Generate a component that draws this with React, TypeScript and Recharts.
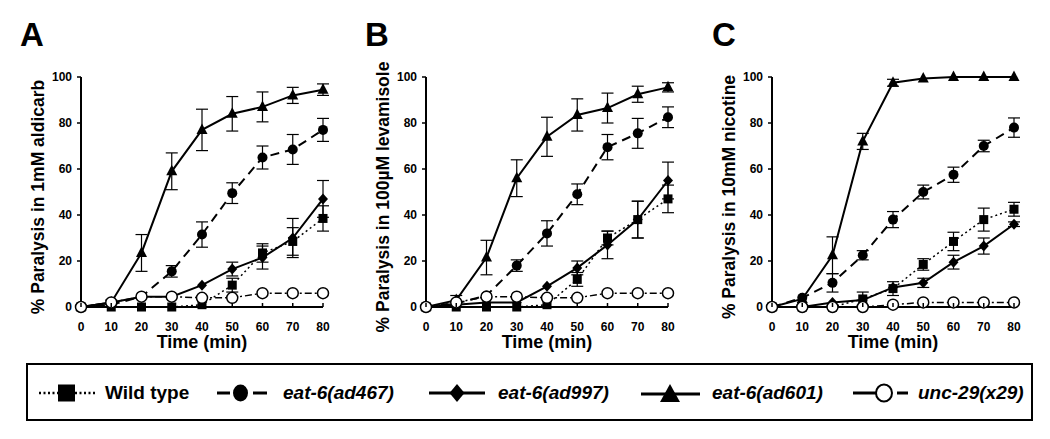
import React from 'react';
import { LineChart, Line, XAxis, YAxis, ErrorBar, Label } from 'recharts';

const FONT = '"Liberation Sans", Arial, sans-serif';

const TIMES = [0, 10, 20, 30, 40, 50, 60, 70, 80];
const Y_TICKS = [0, 20, 40, 60, 80, 100];

// panel A - aldicarb
const A_WT = [0, 0, 0, 0, 1, 9.5, 23.5, 28.5, 38.5];
const A_WT_ERR = [0, 0, 0, 0, 0, 3, 4, 6, 5.5];
const A_AD467 = [0, 1, 4.5, 15.5, 31.5, 49.5, 65, 68.5, 77];
const A_AD467_ERR = [0, 0, 0, 2.5, 5.5, 4.5, 5, 6.5, 5];
const A_AD997 = [0, 2, 4.5, 4.5, 9.5, 16.5, 21.5, 30, 47];
const A_AD997_ERR = [0, 0, 0, 0, 0, 3, 5, 8.5, 8];
const A_AD601 = [0, 2, 23.5, 59, 77, 84, 87, 92, 94.5];
const A_AD601_ERR = [0, 1, 8, 8, 9, 7.5, 6.5, 3.5, 2.5];
const A_UNC29 = [0, 2, 4.5, 4.5, 4, 4, 6, 6, 6];

// panel B - levamisole
const B_WT = [0, 0, 0, 0, 1, 12, 30, 38, 47];
const B_WT_ERR = [0, 0, 0, 0, 0, 3, 3, 8, 6];
const B_AD467 = [0, 1.5, 5, 18, 32, 49, 69.5, 75.5, 82.5];
const B_AD467_ERR = [0, 0, 0, 2.5, 5.5, 4.5, 5.5, 6.5, 4.5];
const B_AD997 = [0, 1, 2, 2, 9, 17, 27, 38, 55];
const B_AD997_ERR = [0, 0, 0, 0, 0, 3, 6, 8, 8];
const B_AD601 = [0, 3, 21.5, 56, 74, 83.5, 86.5, 92.5, 95.5];
const B_AD601_ERR = [0, 2, 7.5, 8, 8.5, 7, 6.5, 3.5, 2];
const B_UNC29 = [0, 2, 4.5, 4.5, 4, 4, 6, 6, 6];

// panel C - nicotine
const C_WT = [0, 0, 0, 3.5, 8, 18.5, 28.5, 38, 42.5];
const C_WT_ERR = [0, 0, 0, 3, 3, 2.5, 4, 5, 3];
const C_AD467 = [0, 4, 10.5, 22.5, 38, 50, 57.5, 70, 78];
const C_AD467_ERR = [0, 0, 4, 2, 3.5, 3, 3.3, 2.5, 4.2];
const C_AD997 = [0, 0, 2, 3, 8.5, 10.5, 19.5, 26.5, 36];
const C_AD997_ERR = [0, 0, 0, 0, 0, 2, 3, 3.5, 1];
const C_AD601 = [0, 3.5, 22.5, 72, 97.5, 99.3, 100, 100, 100];
const C_AD601_ERR = [0, 0, 8, 3.5, 1.5, 0, 0, 0, 0];
const C_UNC29 = [0, 0, 0, 0, 1, 2, 2, 2, 2];

const buildRows = (
  wt: number[], wtE: number[], a467: number[], a467E: number[],
  a997: number[], a997E: number[], a601: number[], a601E: number[], unc: number[]
) =>
  TIMES.map((t, i) => ({
    t,
    wt: wt[i], wtE: wtE[i],
    a467: a467[i], a467E: a467E[i],
    a997: a997[i], a997E: a997E[i],
    a601: a601[i], a601E: a601E[i],
    unc: unc[i],
  }));

const PANELS = [
  { letter: 'A', left: 0, ylabel: '% Paralysis in 1mM aldicarb',
    rows: buildRows(A_WT, A_WT_ERR, A_AD467, A_AD467_ERR, A_AD997, A_AD997_ERR, A_AD601, A_AD601_ERR, A_UNC29) },
  { letter: 'B', left: 345, ylabel: '% Paralysis in 100\u00b5M levamisole',
    rows: buildRows(B_WT, B_WT_ERR, B_AD467, B_AD467_ERR, B_AD997, B_AD997_ERR, B_AD601, B_AD601_ERR, B_UNC29) },
  { letter: 'C', left: 691, ylabel: '% Paralysis in 10mM nicotine',
    rows: buildRows(C_WT, C_WT_ERR, C_AD467, C_AD467_ERR, C_AD997, C_AD997_ERR, C_AD601, C_AD601_ERR, C_UNC29) },
];

const squareDot = (p: any) => (
  <rect key={`s${p.index}`} x={p.cx - 4.5} y={p.cy - 4.5} width={9} height={9} fill="#000" />
);
const circleDot = (p: any) => <circle key={`c${p.index}`} cx={p.cx} cy={p.cy} r={5} fill="#000" />;
const diamondDot = (p: any) => (
  <polygon key={`d${p.index}`}
    points={`${p.cx},${p.cy - 5.5} ${p.cx + 5},${p.cy} ${p.cx},${p.cy + 5.5} ${p.cx - 5},${p.cy}`} fill="#000" />
);
const triangleDot = (p: any) => (
  <polygon key={`t${p.index}`}
    points={`${p.cx},${p.cy - 6.5} ${p.cx + 5.5},${p.cy + 4} ${p.cx - 5.5},${p.cy + 4}`} fill="#000" />
);
const openDot = (p: any) => (
  <circle key={`o${p.index}`} cx={p.cx} cy={p.cy} r={5.5} fill="#fff" stroke="#000" strokeWidth={1.5} />
);

const XTick = (p: any) => (
  <g>
    <line x1={p.x} x2={p.x} y1={p.y} y2={p.y - 4} stroke="#000" strokeWidth={1.5} />
    <text x={p.x} y={p.y + 24} textAnchor="middle" fontSize={12} fontWeight="bold" fill="#000" fontFamily={FONT}>
      {p.payload.value}
    </text>
  </g>
);

const Panel = ({ panel }: { panel: (typeof PANELS)[number] }) => (
  <div style={{ position: 'absolute', left: panel.left, top: 0 }}>
    <LineChart width={345} height={360} data={panel.rows} margin={{ top: 77, right: 22, bottom: 3, left: 31 }}>
      <XAxis type="number" dataKey="t" domain={[0, 80]} ticks={TIMES} interval={0} height={50}
        tickLine={false} tickSize={0} tickMargin={0} tick={<XTick />}
        axisLine={{ stroke: '#000', strokeWidth: 2 }}>
        <Label content={() => (
          <text x={202} y={348} textAnchor="middle" fontSize={18} fontWeight="bold" fill="#000" fontFamily={FONT}>
            Time (min)
          </text>
        )} />
      </XAxis>
      <YAxis type="number" domain={[0, 100]} ticks={Y_TICKS} width={50} tickSize={4} tickMargin={5}
        tick={{ fontSize: 12, fontWeight: 'bold', fill: '#000', fontFamily: FONT }}
        tickLine={{ stroke: '#000', strokeWidth: 1.5 }}
        axisLine={{ stroke: '#000', strokeWidth: 2 }}>
        <Label content={() => (
          <text x={38} y={197} transform="rotate(-90, 38, 197)" textAnchor="middle" dominantBaseline="central"
            fontSize={17.5} fontWeight="bold" fill="#000" fontFamily={FONT}>
            {panel.ylabel}
          </text>
        )} />
      </YAxis>
      <Line dataKey="wt" stroke="#000" strokeWidth={1.5} strokeDasharray="2 3" dot={squareDot} isAnimationActive={false}>
        <ErrorBar dataKey="wtE" width={6} stroke="#000" strokeWidth={1.2} direction="y" />
      </Line>
      <Line dataKey="a467" stroke="#000" strokeWidth={2} strokeDasharray="9 6" dot={circleDot} isAnimationActive={false}>
        <ErrorBar dataKey="a467E" width={6} stroke="#000" strokeWidth={1.2} direction="y" />
      </Line>
      <Line dataKey="a997" stroke="#000" strokeWidth={2} dot={diamondDot} isAnimationActive={false}>
        <ErrorBar dataKey="a997E" width={6} stroke="#000" strokeWidth={1.2} direction="y" />
      </Line>
      <Line dataKey="a601" stroke="#000" strokeWidth={2} dot={triangleDot} isAnimationActive={false}>
        <ErrorBar dataKey="a601E" width={6} stroke="#000" strokeWidth={1.2} direction="y" />
      </Line>
      <Line dataKey="unc" stroke="#000" strokeWidth={1.5} strokeDasharray="7 3 2 3" dot={openDot} isAnimationActive={false} />
    </LineChart>
  </div>
);

const LEG_Y = 393;

const LegendBox = () => (
  <svg width={1050} height={439} style={{ position: 'absolute', left: 0, top: 0, pointerEvents: 'none' }}>
    {PANELS.map((p, i) => (
      <text key={p.letter} x={[20, 365, 712][i]} y={46} fontSize={33} fontWeight="bold" fill="#000" fontFamily={FONT}>
        {p.letter}
      </text>
    ))}
    <rect x={27} y={364} width={1005} height={56} fill="none" stroke="#000" strokeWidth={2} />
    <g fontFamily={FONT} fontSize={19} fontWeight="bold" fill="#000">
      <line x1={39} x2={97} y1={LEG_Y} y2={LEG_Y} stroke="#000" strokeWidth={2.5} strokeDasharray="2 2.5" />
      <rect x={58} y={LEG_Y - 8.5} width={17} height={17} fill="#000" />
      <text x={105} y={LEG_Y + 6}>Wild type</text>

      <line x1={217} x2={230} y1={LEG_Y} y2={LEG_Y} stroke="#000" strokeWidth={3} />
      <line x1={253} x2={267} y1={LEG_Y} y2={LEG_Y} stroke="#000" strokeWidth={3} />
      <ellipse cx={240.5} cy={LEG_Y} rx={7.5} ry={8.5} fill="#000" />
      <text x={283} y={LEG_Y + 6} fontStyle="italic">eat-6(ad467)</text>

      <line x1={429} x2={485} y1={LEG_Y} y2={LEG_Y} stroke="#000" strokeWidth={3} />
      <polygon points={`457,${LEG_Y - 9} 464.5,${LEG_Y} 457,${LEG_Y + 9} 449.5,${LEG_Y}`} fill="#000" />
      <text x={498} y={LEG_Y + 6} fontStyle="italic">eat-6(ad997)</text>

      <line x1={641} x2={700} y1={LEG_Y + 1} y2={LEG_Y + 1} stroke="#000" strokeWidth={3} />
      <polygon points={`670,${LEG_Y - 9} 680,${LEG_Y + 9} 660,${LEG_Y + 9}`} fill="#000" />
      <text x={712} y={LEG_Y + 6} fontStyle="italic">eat-6(ad601)</text>

      <line x1={853} x2={876} y1={LEG_Y} y2={LEG_Y} stroke="#000" strokeWidth={3} />
      <line x1={897} x2={908} y1={LEG_Y} y2={LEG_Y} stroke="#000" strokeWidth={3} />
      <ellipse cx={884} cy={LEG_Y} rx={8} ry={8.5} fill="#fff" stroke="#000" strokeWidth={2} />
      <text x={918} y={LEG_Y + 6} fontStyle="italic">unc-29(x29)</text>
    </g>
  </svg>
);

export default function App() {
  return (
    <div style={{ position: 'absolute', left: 0, top: 0, width: 1050, height: 439, background: '#fff', fontFamily: FONT }}>
      {PANELS.map((p) => (
        <Panel key={p.letter} panel={p} />
      ))}
      <LegendBox />
    </div>
  );
}
